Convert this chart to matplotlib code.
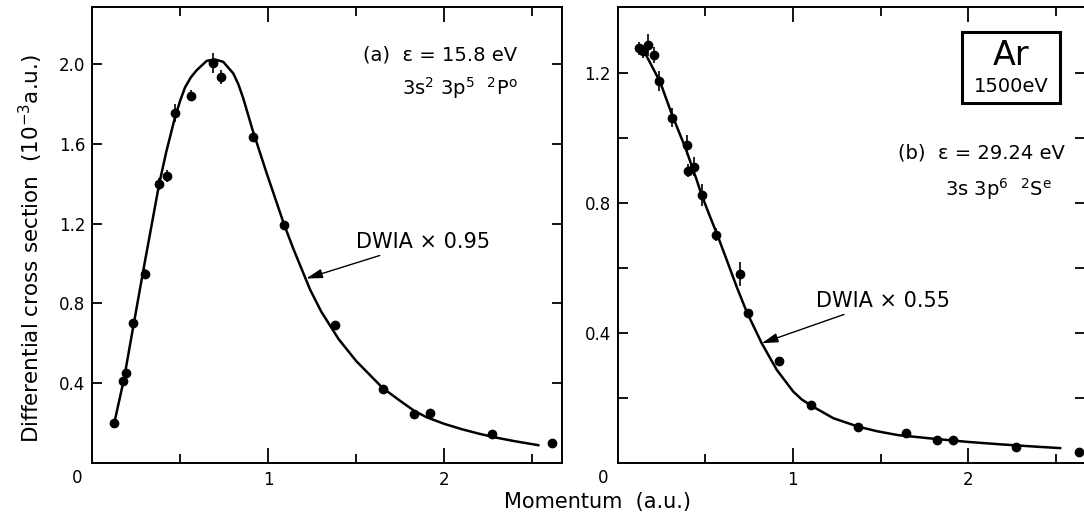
import numpy as np
import matplotlib
matplotlib.use("Agg")
import matplotlib.pyplot as plt
from matplotlib.patches import Rectangle

plt.rcParams["font.family"] = ["DejaVu Sans"]
plt.rcParams["mathtext.default"] = "regular"

# (a) eps = 15.8 eV, 3s2 3p5 2P0 -- measured points
mom_a = [0.125, 0.175, 0.19, 0.233, 0.297, 0.379, 0.423, 0.470, 0.559, 0.688,
         0.731, 0.911, 1.091, 1.380, 1.654, 1.830, 1.920, 2.269, 2.610]
dcs_a = [0.197, 0.409, 0.448, 0.702, 0.949, 1.399, 1.441, 1.754, 1.844, 2.005,
         1.938, 1.637, 1.193, 0.693, 0.371, 0.246, 0.251, 0.143, 0.097]
err_a = [0.01, 0.015, 0.015, 0.02, 0.025, 0.03, 0.03, 0.045, 0.03, 0.05,
         0.035, 0.02, 0.02, 0.015, 0.01, 0.01, 0.01, 0.01, 0.01]

# DWIA x 0.95 curve
curve_a_x = [0.125, 0.18, 0.23, 0.29, 0.38, 0.42, 0.47, 0.5, 0.527, 0.56,
             0.593, 0.65, 0.697, 0.744, 0.801, 0.83, 0.858, 0.911, 0.991,
             1.091, 1.142, 1.237, 1.3, 1.4, 1.5, 1.65, 1.75, 1.83, 1.9, 2.0,
             2.1, 2.2, 2.3, 2.4, 2.534]
curve_a_y = [0.20, 0.42, 0.67, 0.967, 1.40, 1.56, 1.735, 1.82, 1.885, 1.935,
             1.971, 2.018, 2.025, 2.013, 1.955, 1.90, 1.829, 1.67, 1.453,
             1.193, 1.075, 0.87, 0.76, 0.62, 0.51, 0.375, 0.31, 0.26, 0.228,
             0.195, 0.168, 0.145, 0.125, 0.108, 0.088]

# (b) eps = 29.24 eV, 3s 3p6 2Se -- measured points
mom_b = [0.123, 0.143, 0.175, 0.207, 0.236, 0.308, 0.394, 0.403, 0.435, 0.483,
         0.563, 0.697, 0.746, 0.921, 1.104, 1.374, 1.644, 1.823, 1.911, 2.276, 2.633]
dcs_b = [1.277, 1.267, 1.287, 1.255, 1.176, 1.063, 0.979, 0.900, 0.912, 0.825,
         0.703, 0.581, 0.460, 0.314, 0.179, 0.109, 0.090, 0.069, 0.070, 0.048, 0.034]
err_b = [0.02, 0.02, 0.035, 0.025, 0.03, 0.03, 0.03, 0.02, 0.03, 0.035,
         0.02, 0.037, 0.015, 0.01, 0.01, 0.01, 0.01, 0.01, 0.01, 0.01, 0.01]

# DWIA x 0.55 curve
curve_b_x = [0.165, 0.243, 0.308, 0.39, 0.451, 0.479, 0.527, 0.565, 0.622,
             0.679, 0.736, 0.822, 0.908, 1.002, 1.05, 1.107, 1.231, 1.373,
             1.48, 1.6, 1.8, 2.0, 2.2, 2.4, 2.525]
curve_b_y = [1.253, 1.172, 1.075, 0.965, 0.871, 0.825, 0.758, 0.707, 0.625,
             0.542, 0.465, 0.368, 0.286, 0.219, 0.195, 0.175, 0.137, 0.111,
             0.097, 0.085, 0.074, 0.064, 0.056, 0.049, 0.045]

W, H = 1084, 516
fig = plt.figure(figsize=(W / 100, H / 100), dpi=100)
ax1 = fig.add_axes([92.3 / W, 53.3 / H, 469.4 / W, 456 / H])
ax2 = fig.add_axes([617.7 / W, 53.3 / H, 467.3 / W, 456 / H])


def style_axes(ax, ymax):
    ax.set_xlim(0, 2.667)
    ax.set_ylim(0, ymax)
    for s in ax.spines.values():
        s.set_linewidth(1.4)
    ax.set_xticks([1, 2])
    ax.set_xticklabels(["1", "2"])
    ax.set_xticks([0.5, 1.5, 2.5], minor=True)
    ax.tick_params(axis="x", which="major", direction="in", length=11,
                   width=1.3, top=True, bottom=True, labelsize=12, pad=6)
    ax.tick_params(axis="x", which="minor", direction="in", length=6.5,
                   width=1.3, top=True, bottom=True)
    ax.tick_params(axis="y", which="both", direction="in", length=7,
                   width=1.3, left=True, right=True, labelsize=12, pad=5)
    ax.annotate("0", xy=(0, 0), xycoords="axes fraction", xytext=(-15, -15),
                textcoords="offset pixels", ha="center", va="center",
                fontsize=12)


# panel (a)
style_axes(ax1, 2.29)
ax1.set_yticks([0.4, 0.8, 1.2, 1.6, 2.0])
ax1.set_yticklabels(["0.4", "0.8", "1.2", "1.6", "2.0"])
ax1.plot(curve_a_x, curve_a_y, color="black", lw=1.8)
ax1.errorbar(mom_a, dcs_a, yerr=err_a, fmt="o", color="black", ms=6,
             elinewidth=1.2, capsize=0)
ax1.text(0.905, 0.894, "(a)  ε = 15.8 eV", transform=ax1.transAxes,
         ha="right", va="center", fontsize=14)
ax1.text(0.907, 0.822, r"3s$^2$ 3p$^5$  $^2$P$^o$", transform=ax1.transAxes,
         ha="right", va="center", fontsize=14)
ax1.annotate("DWIA × 0.95", xy=(1.215, 0.925), xytext=(1.50, 1.109),
             ha="left", va="center", fontsize=15,
             arrowprops=dict(arrowstyle="-|>,head_length=0.7,head_width=0.2",
                             color="black", lw=1.0, mutation_scale=14,
                             shrinkA=2, shrinkB=0))

# panel (b)
style_axes(ax2, 1.405)
ax2.set_yticks([0.4, 0.8, 1.2])
ax2.set_yticklabels(["0.4", "0.8", "1.2"])
ax2.set_yticks([0.2, 0.6, 1.0], minor=True)
ax2.plot(curve_b_x, curve_b_y, color="black", lw=1.8)
ax2.errorbar(mom_b, dcs_b, yerr=err_b, fmt="o", color="black", ms=6,
             elinewidth=1.2, capsize=0)
ax2.text(0.956, 0.679, "(b)  ε = 29.24 eV", transform=ax2.transAxes,
         ha="right", va="center", fontsize=14)
ax2.text(0.929, 0.600, r"3s 3p$^6$  $^2$S$^e$", transform=ax2.transAxes,
         ha="right", va="center", fontsize=14)
ax2.annotate("DWIA × 0.55", xy=(0.822, 0.368), xytext=(1.132, 0.499),
             ha="left", va="center", fontsize=15,
             arrowprops=dict(arrowstyle="-|>,head_length=0.7,head_width=0.2",
                             color="black", lw=1.0, mutation_scale=14,
                             shrinkA=2, shrinkB=0))

# Ar / 1500 eV box
ax2.add_patch(Rectangle((0.737, 0.789), 0.21, 0.1555, transform=ax2.transAxes,
                        fill=False, lw=2.2, color="black"))
ax2.text(0.842, 0.892, "Ar", transform=ax2.transAxes, ha="center",
         va="center", fontsize=24)
ax2.text(0.842, 0.826, "1500eV", transform=ax2.transAxes, ha="center",
         va="center", fontsize=14)

fig.text(31 / W, 0.519, "Differential cross section  (10$^{-3}$a.u.)",
         rotation=90, ha="center", va="center", fontsize=15.5)
fig.text(597.5 / W, 0.028, "Momentum  (a.u.)", ha="center", va="center",
         fontsize=15)

fig.savefig("out.png", dpi=100)
